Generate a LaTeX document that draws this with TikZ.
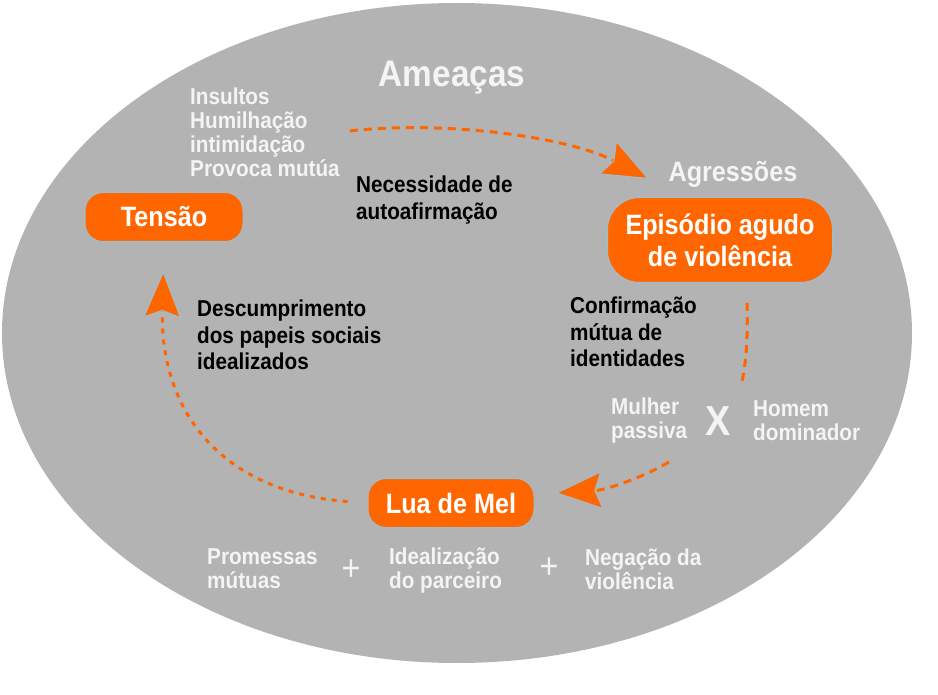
\documentclass[tikz,border=0pt]{standalone}
\usepackage{fontspec}
\setmainfont{Liberation Sans}[FakeStretch=0.9]
\usepackage{tikz}
\usetikzlibrary{arrows.meta}

\definecolor{ovalgray}{HTML}{B3B3B3}
\definecolor{boxorange}{HTML}{FF6600}
\definecolor{boxline}{HTML}{A3BCCB}
\definecolor{lighttext}{HTML}{F4F4F4}

\begin{document}
\begin{tikzpicture}[x=1pt,y=-1pt,
    phase/.style={draw=boxline, line width=1pt, fill=boxorange, text=white,
        font=\fontsize{28}{32}\selectfont\bfseries, rounded corners=18pt, align=center},
    whitenote/.style={text=lighttext, font=\fontsize{23}{24}\selectfont\bfseries,
        align=left, inner sep=0pt, anchor=west},
    blacknote/.style={text=black, font=\fontsize{23}{26.5}\selectfont\bfseries,
        align=left, inner sep=0pt, anchor=west},
    plussign/.style={text=lighttext, font=\fontsize{36}{36}\selectfont},
    loopflow/.style={draw=boxorange, line width=3pt, dash pattern=on 8pt off 6pt,
        -{Stealth[length=47pt,width=38pt,inset=7pt,line width=1pt,color=boxline,fill=boxorange]}},
    dashflow/.style={draw=boxorange, line width=3pt, dash pattern=on 8pt off 6pt}]

        \useasboundingbox (0,0) rectangle (938,695);
        \fill[ovalgray] (457,333) ellipse [x radius=455, y radius=330];

        \node[phase, minimum width=158pt, minimum height=49pt] (tensao) at (164,217) {Tensão};
        \node[phase, minimum width=225pt, minimum height=85pt, rounded corners=32pt] (episodio) at (720,240) {Episódio agudo\\de violência};
        \node[phase, minimum width=166pt, minimum height=49pt] (lua) at (451,503) {Lua de Mel};

        \node[text=lighttext, font=\fontsize{37}{40}\selectfont\bfseries, anchor=base] (ameacas) at (452,87) {Ameaças};
        \node[text=lighttext, font=\fontsize{28}{30}\selectfont\bfseries, anchor=base] (agressoes) at (733,182) {Agressões};

        \node[whitenote] (insultos) at (190,132) {Insultos\\Humilhação\\intimidação\\Provoca mutúa};
        \node[blacknote] (necessidade) at (356,200) {Necessidade de\\autoafirmação};
        \node[blacknote] (descumprimento) at (197,335) {Descumprimento\\dos papeis sociais\\idealizados};
        \node[blacknote] (confirmacao) at (570,332) {Confirmação\\mútua de\\identidades};

        \node[whitenote] (mulher) at (611,421) {Mulher\\passiva};
        \node[text=lighttext, font=\fontsize{42}{44}\selectfont\bfseries] (versus) at (718,421) {X};
        \node[whitenote] (homem) at (753,421) {Homem\\dominador};

        \node[whitenote] (promessas) at (207,569) {Promessas\\mútuas};
        \node[plussign] (plusA) at (351,570) {+};
        \node[whitenote] (idealizacao) at (389,571) {Idealização\\do parceiro};
        \node[plussign] (plusB) at (549,568) {+};
        \node[whitenote] (negacao) at (585,569) {Negação da\\violência};

        \coordinate (agrTip) at (649,179);
        \coordinate (epiOut) at (747,303);
        \coordinate (xUp) at (741,386);
        \coordinate (xDown) at (669,462);

        \draw[loopflow, shorten <=10pt] (insultos.east) .. controls (450,120) and (570,138) .. (agrTip);
        \draw[dashflow] (epiOut) .. controls (748,340) and (746,365) .. (xUp);
        \draw[loopflow] (xDown) .. controls (640,479) and (605,490) .. ([shift={(21,-10)}]lua.east);
        \draw[loopflow, dash pattern=on 5pt off 6pt, shorten <=20pt, shorten >=29pt] (lua.west) .. controls (220,492) and (160,410) .. (tensao.south);

    \end{tikzpicture}
\end{document}
